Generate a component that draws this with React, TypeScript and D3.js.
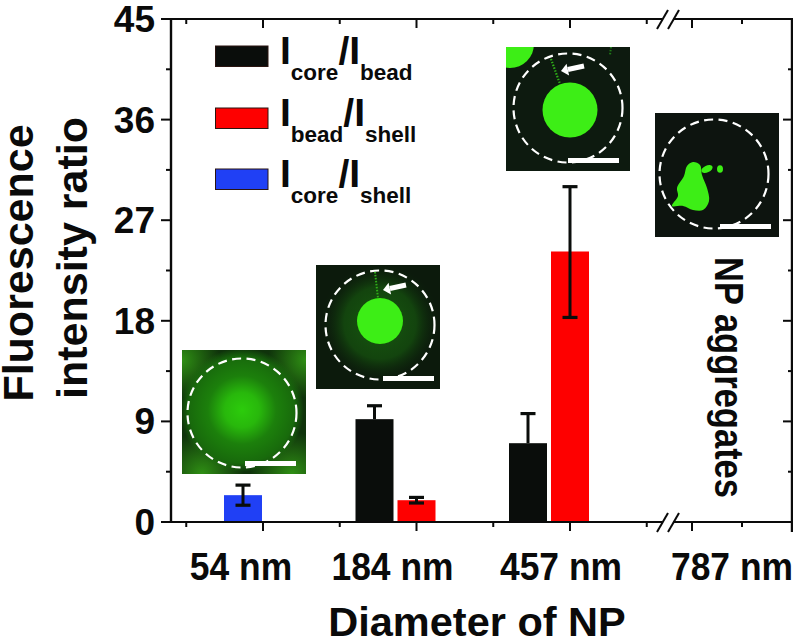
import * as d3 from "d3";

const width = 793;
const height = 640;
const FONT = "'Liberation Sans', Arial, sans-serif";

// values
const sizes = ["54 nm", "184 nm", "457 nm"];
const brokenSize = "787 nm";
const coreBead = [null, 9.2, 7.05];
const coreBeadUpper = [null, 10.4, 9.7];
const beadShell = [null, 1.95, 24.2];
const beadShellUpper = [null, 2.2, 30];
const beadShellLower = [null, 1.7, 18.3];
const coreShell = [2.4, null, null];
const coreShellUpper = [3.3, null, null];
const coreShellLower = [1.5, null, null];
const yMajor = [0, 9, 18, 27, 36, 45];
const yMinor = [4.5, 13.5, 22.5, 31.5, 40.5];

const blackFill = "#0a0d0b";
const redFill = "#fe0000";
const blueFill = "#2040f5";

const y = d3.scaleLinear().domain([0, 45]).range([522, 19]);
// category axis, in two pieces either side of the break
const x = d3.scaleLinear().domain([0, 2]).range([263, 570]);
const xRight = d3.scaleLinear().domain([0, 2]).range([692, 792]);
const left = 171;
const right = 792;
const breakX = 667;
const barW = 38;

// x labels don't sit on the ticks in the original, they are a bit to the left
const labelShift = [-22, -24, -9];

const smooth = d3.line().curve(d3.curveCatmullRomClosed.alpha(0.5));
const blob = [
  [38, 49], [45, 52], [47, 62], [52, 75], [54, 88], [48, 97], [38, 97],
  [28, 93], [17, 93], [23, 83], [22, 75], [29, 63], [32, 53],
];

function Bar({ cx, value, upper, lower, fill }: any) {
  if (value == null) return null;
  return (
    <g>
      <rect x={cx - barW / 2} y={y(value)} width={barW} height={y(0) - y(value)} fill={fill} />
      <line x1={cx} x2={cx} y1={y(upper)} y2={y(lower ?? value)} stroke="#0a0d0b" strokeWidth={3} />
      <line x1={cx - 7.5} x2={cx + 7.5} y1={y(upper)} y2={y(upper)} stroke="#0a0d0b" strokeWidth={3.2} />
      {lower != null && (
        <line x1={cx - 7.5} x2={cx + 7.5} y1={y(lower)} y2={y(lower)} stroke="#0a0d0b" strokeWidth={3.2} />
      )}
    </g>
  );
}

function LegendRow({ top, fill, sub1, sub2 }: any) {
  return (
    <g>
      <rect x={215.5} y={top} width={52.5} height={20.5} fill={fill} stroke="#2a1410" strokeWidth={1} />
      <text x={280} y={top + 18} fontSize={39} fontWeight="bold">
        I
        <tspan fontSize={22.5} dy={16}>{sub1}</tspan>
        <tspan dy={-16}>/I</tspan>
        <tspan fontSize={22.5} dy={16}>{sub2}</tspan>
      </text>
    </g>
  );
}

function Frame({ id, px, py, cx, cy, bar, bg, children }: any) {
  return (
    <g transform={`translate(${px},${py})`}>
      <clipPath id={id}><rect width={124} height={124} /></clipPath>
      <g clipPath={`url(#${id})`}>
        <rect width={124} height={124} fill={bg} />
        {children}
      </g>
      <circle cx={cx} cy={cy} r={54.5} fill="none" stroke="#fff" strokeWidth={2.2} strokeDasharray="9 5.5" />
      <rect x={bar} y={111} width={51} height={5} fill="#fff" />
    </g>
  );
}

function Arrow({ x1, y1, x2, y2 }: any) {
  const a = Math.atan2(y2 - y1, x2 - x1);
  const ux = Math.cos(a), uy = Math.sin(a);
  const bx = x2 - ux * 7, by = y2 - uy * 7;
  return (
    <g>
      <line x1={x1} y1={y1} x2={bx} y2={by} stroke="#fff" strokeWidth={5} />
      <path
        d={`M${x2},${y2}L${bx - uy * 6},${by + ux * 6}L${bx + uy * 6},${by - ux * 6}Z`}
        fill="#fff"
      />
    </g>
  );
}

export default function App() {
  const axisStroke = "#0a0a0a";
  const xTicksMajor = [x(0), x(1), x(2), xRight(0), xRight(2)];
  const xTicksMinor = [x(-0.5), x(0.5), x(1.5), x(2.5), xRight(1)];
  return (
    <svg
      width={width}
      height={height}
      style={{ position: "absolute", left: 0, top: 0, background: "#fff" }}
      fontFamily={FONT}
      fill="#0a0a0a"
    >
      <defs>
        <radialGradient id="glow1">
          <stop offset="0%" stopColor="#2ccc0c" />
          <stop offset="28%" stopColor="#28b80c" />
          <stop offset="55%" stopColor="#1c800c" />
          <stop offset="85%" stopColor="#186a0c" />
          <stop offset="100%" stopColor="#186a0c" stopOpacity={0} />
        </radialGradient>
        <radialGradient id="corner1">
          <stop offset="0%" stopColor="#2f8f14" />
          <stop offset="100%" stopColor="#2f8f14" stopOpacity={0} />
        </radialGradient>
        <radialGradient id="glow2">
          <stop offset="0%" stopColor="#17580f" />
          <stop offset="60%" stopColor="#13440e" />
          <stop offset="100%" stopColor="#0c1f0c" stopOpacity={0} />
        </radialGradient>
        <filter id="soft"><feGaussianBlur stdDeviation="0.6" /></filter>
      </defs>

      {/* insets */}
      <Frame id="f1" px={182} py={350} cx={60} cy={63} bar={63} bg="#0f330b">
        <circle cx={0} cy={10} r={38} fill="url(#corner1)" />
        <circle cx={124} cy={10} r={38} fill="url(#corner1)" />
        <circle cx={20} cy={124} r={42} fill="url(#corner1)" />
        <circle cx={110} cy={124} r={42} fill="url(#corner1)" />
        <circle cx={60} cy={60} r={62} fill="url(#glow1)" />
      </Frame>
      <Frame id="f2" px={316} py={265} cx={64} cy={60} bar={67} bg="#0c1a0c">
        <circle cx={64} cy={58} r={60} fill="url(#glow2)" />
        <circle cx={64} cy={56} r={23} fill="#3cee14" filter="url(#soft)" />
        <line x1={59} y1={7} x2={62} y2={33} stroke="#2fae18" strokeWidth={2} strokeDasharray="1.5 1.5" />
        <Arrow x1={90} y1={20} x2={67} y2={25} />
      </Frame>
      <Frame id="f3" px={506} py={47} cx={62} cy={61} bar={62} bg="#0d1a0f">
        <circle cx={4} cy={-3} r={24} fill="#3cee14" filter="url(#soft)" />
        <circle cx={64} cy={63} r={27.5} fill="#3cee14" filter="url(#soft)" />
        <line x1={45} y1={12} x2={54} y2={37} stroke="#2fae18" strokeWidth={2.2} strokeDasharray="1.5 1.5" />
        <line x1={105} y1={0} x2={104} y2={8} stroke="#1f7a18" strokeWidth={2} strokeDasharray="1.5 1.5" />
        <Arrow x1={78} y1={19} x2={55} y2={24} />
      </Frame>
      <Frame id="f4" px={655} py={113} cx={59} cy={61} bar={65} bg="#0d140f">
        <path d={smooth(blob as any) ?? ""} fill="#3cee14" filter="url(#soft)" />
        <ellipse cx={52} cy={56} rx={6} ry={3.4} fill="#3cee14" transform="rotate(-25 52 56)" />
        <ellipse cx={65} cy={56} rx={3} ry={3.8} fill="#3cee14" />
      </Frame>

      {/* bars */}
      {sizes.map((s, i) => (
        <g key={s}>
          <Bar cx={x(i) - 42} value={coreBead[i]} upper={coreBeadUpper[i]} fill={blackFill} />
          <Bar cx={x(i)} value={beadShell[i]} upper={beadShellUpper[i]} lower={beadShellLower[i]} fill={redFill} />
          <Bar cx={x(i) - 20} value={coreShell[i]} upper={coreShellUpper[i]} lower={coreShellLower[i]} fill={blueFill} />
        </g>
      ))}

      {/* axes */}
      <g stroke={axisStroke} strokeWidth={2} fill="none">
        <line x1={left} x2={left} y1={y(45) - 1} y2={y(0) + 1} strokeWidth={2.4} />
        <line x1={right} x2={right} y1={y(45) - 1} y2={y(0) + 10} strokeWidth={2.4} />
        <line x1={left - 10} x2={breakX - 5} y1={y(0)} y2={y(0)} />
        <line x1={breakX + 6} x2={right} y1={y(0)} y2={y(0)} />
        <line x1={left - 10} x2={breakX - 5} y1={y(45)} y2={y(45)} />
        <line x1={breakX + 6} x2={right} y1={y(45)} y2={y(45)} />
        {yMajor.map((v) => (
          <g key={v}>
            <line x1={left - 10} x2={left} y1={y(v)} y2={y(v)} />
            <line x1={right - 9} x2={right} y1={y(v)} y2={y(v)} />
          </g>
        ))}
        {yMinor.map((v) => (
          <g key={v}>
            <line x1={left - 5} x2={left} y1={y(v)} y2={y(v)} />
            <line x1={right - 4} x2={right} y1={y(v)} y2={y(v)} />
          </g>
        ))}
        {xTicksMajor.map((t) => (
          <g key={t}>
            <line x1={t} x2={t} y1={y(0)} y2={y(0) + 9} />
            <line x1={t} x2={t} y1={y(45)} y2={y(45) + 9} />
          </g>
        ))}
        {xTicksMinor.map((t) => (
          <g key={t}>
            <line x1={t} x2={t} y1={y(0)} y2={y(0) + 5} />
            <line x1={t} x2={t} y1={y(45)} y2={y(45) + 5} />
          </g>
        ))}
        {[y(0), y(45)].map((b) => (
          <g key={b}>
            <line x1={breakX - 10} x2={breakX + 1} y1={b + 10} y2={b - 9} />
            <line x1={breakX + 1} x2={breakX + 12} y1={b + 10} y2={b - 9} />
          </g>
        ))}
      </g>

      {/* tick labels */}
      <g fontSize={37} fontWeight="bold" textAnchor="end">
        {yMajor.map((v) => (
          <text key={v} x={155} y={y(v) + 13}>{v}</text>
        ))}
      </g>
      <g fontSize={38.5} fontWeight="bold" textAnchor="middle">
        {sizes.map((s, i) => (
          <text key={s} transform={`translate(${x(i) + labelShift[i]},580) scale(0.92,1)`}>{s}</text>
        ))}
        <text transform={`translate(${xRight(0) + 40},580) scale(0.92,1)`}>{brokenSize}</text>
      </g>

      {/* titles */}
      <text x={477} y={636} fontSize={41.5} fontWeight="bold" textAnchor="middle">Diameter of NP</text>
      <g fontSize={43} fontWeight="bold" textAnchor="middle">
        <text transform="translate(33,263) rotate(-90)">Fluorescence</text>
        <text transform="translate(87,258) rotate(-90)">intensity ratio</text>
      </g>
      <text
        transform="translate(715,257) rotate(90)"
        fontSize={40}
        fontWeight="bold"
        textLength={241}
        lengthAdjust="spacingAndGlyphs"
      >
        NP aggregates
      </text>

      {/* legend */}
      <LegendRow top={46} fill={blackFill} sub1="core" sub2="bead" />
      <LegendRow top={108} fill={redFill} sub1="bead" sub2="shell" />
      <LegendRow top={169} fill={blueFill} sub1="core" sub2="shell" />
    </svg>
  );
}
